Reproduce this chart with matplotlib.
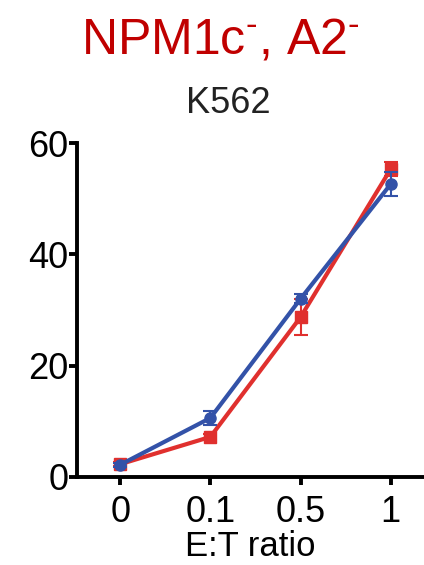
import matplotlib
matplotlib.use('Agg')
import matplotlib.pyplot as plt
import numpy as np

# データ
ratios = ['0', '0.1', '0.5', '1']
red_mean = [2.3, 7.2, 28.7, 55.3]
red_err = [0.4, 0.6, 3.2, 1.2]
blue_mean = [2.2, 10.6, 32.0, 52.6]
blue_err = [0.4, 1.2, 0.8, 2.2]

plt.rcParams['font.family'] = ['Liberation Sans', 'DejaVu Sans']
plt.rcParams['mathtext.fontset'] = 'custom'
plt.rcParams['mathtext.rm'] = 'Liberation Sans'
plt.rcParams['mathtext.it'] = 'Liberation Sans'
plt.rcParams['mathtext.sf'] = 'Liberation Sans'

fig = plt.figure(figsize=(4.24, 5.65), dpi=100)
ax = fig.add_axes([0.1816, 0.1558, 0.8184, 0.5911])

x = np.arange(len(ratios))
red = '#E0302E'
blue = '#3352A8'

ax.errorbar(x, red_mean, yerr=red_err, color=red, marker='s', markersize=9,
            lw=3, elinewidth=1.5, capsize=5, capthick=1.5, zorder=3)
ax.errorbar(x, blue_mean, yerr=blue_err, color=blue, marker='o', markersize=8,
            lw=3, elinewidth=1.5, capsize=5, capthick=1.5, zorder=4)

ax.set_xlim(-0.48, 3.37)
ax.set_ylim(0, 60)
ax.set_yticks([0, 20, 40, 60])
ax.set_xticks(x)
ax.set_xticklabels(ratios)

for s in ['top', 'right']:
    ax.spines[s].set_visible(False)
for s in ['left', 'bottom']:
    ax.spines[s].set_linewidth(2.8)

ax.tick_params(axis='both', direction='out', length=6, width=2.8, labelsize=26, colors='black')
ax.tick_params(axis='y', pad=0)
ax.tick_params(axis='x', pad=7)

ax.set_xlabel('E:T ratio', fontsize=25, labelpad=0)

fig.text(0.519, 0.906, r'NPM1c$^{\text{-}}$, A2$^{\text{-}}$', color='#C00000', fontsize=36,
         ha='center', va='baseline')
fig.text(0.538, 0.816, 'K562', color='#222222', fontsize=26, ha='center', va='center')

fig.savefig('out.png', dpi=100)
